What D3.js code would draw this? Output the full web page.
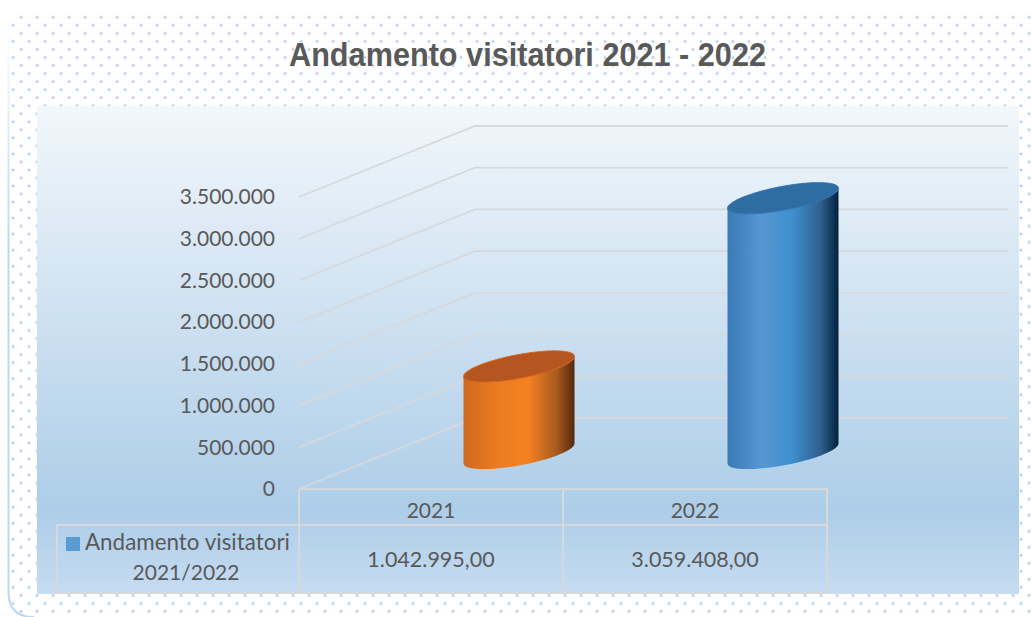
<!DOCTYPE html>
<html>
<head>
<meta charset="utf-8">
<script src="https://cdn.jsdelivr.net/npm/d3@7"></script>
<style>
  html, body { margin: 0; padding: 0; background: #fff; }
  svg { display: block; }
  text { font-family: Lato, sans-serif; fill: #595959; }
</style>
</head>
<body>
<div id="vis"></div>
<script>
const TITLE = "Andamento visitatori 2021 - 2022";
const SERIES_NAME = ["Andamento visitatori", "2021/2022"];
const CATEGORIES = ["2021", "2022"];
const VALUES = [1042995, 3059408];
const Y_TICKS = [0, 500000, 1000000, 1500000, 2000000, 2500000, 3000000, 3500000];

const WIDTH = 1032;
const HEIGHT = 617;

// Piano del grafico (proiezione obliqua: il fondo e' spostato di DEPTH)
const PLOT = { left: 299, right: 827, top: 197, bottom: 489, wallRight: 1008 };
const DEPTH = { x: 176, y: -71 };

const BAR_COLORS = [
    { top: "#b5551f", edge: "#d4651b", stops: ["#cf6a1f", "#ec7a22", "#f58221", "#a9591f", "#512a0a"] },
    { top: "#2e6ca3", edge: "#2f72b0", stops: ["#3a7ab6", "#5697d2", "#3f8fd0", "#2f5f8e", "#02223e"] },
];
const STOP_OFFSETS = ["0%", "30%", "58%", "84%", "100%"];

const it = d3.formatLocale({ decimal: ",", thousands: ".", grouping: [3], currency: ["€", ""] });
const formatTick = it.format(",d");
const formatValue = it.format(",.2f");

const escalaY = d3.scaleLinear().domain([0, 3500000]).range([PLOT.bottom, PLOT.top]);
const escalaX = d3.scaleBand().domain(CATEGORIES).range([PLOT.left, PLOT.right]);

const SVG = d3.select("#vis").append("svg").attr("width", WIDTH).attr("height", HEIGHT);
const defs = SVG.append("defs");

// Sfondo a puntini
const dots = defs.append("pattern")
    .attr("id", "dots")
    .attr("patternUnits", "userSpaceOnUse")
    .attr("x", 13).attr("y", 9.3)
    .attr("width", 16).attr("height", 16.06);
[[8, 8], [0, 16.06], [16, 16.06], [0, 0], [16, 0]].forEach(p => {
    dots.append("circle").attr("cx", p[0]).attr("cy", p[1]).attr("r", 2.4).attr("fill", "#f0f5fb");
});
[[8, 8], [0, 16.06], [16, 16.06], [0, 0], [16, 0]].forEach(p => {
    dots.append("circle").attr("cx", p[0]).attr("cy", p[1]).attr("r", 1).attr("fill", "#97badf");
});

const bgGrad = defs.append("linearGradient")
    .attr("id", "bg").attr("x1", 0).attr("y1", 0).attr("x2", 0).attr("y2", 1);
bgGrad.append("stop").attr("offset", "0%").attr("stop-color", "#f2f7fb");
bgGrad.append("stop").attr("offset", "83%").attr("stop-color", "#adcde8");
bgGrad.append("stop").attr("offset", "100%").attr("stop-color", "#c6dcf1");

const frameGrad = defs.append("linearGradient")
    .attr("id", "frameStroke").attr("gradientUnits", "userSpaceOnUse")
    .attr("x1", 0).attr("y1", 20).attr("x2", 0).attr("y2", 250);
frameGrad.append("stop").attr("offset", "0%").attr("stop-color", "#ffffff");
frameGrad.append("stop").attr("offset", "100%").attr("stop-color", "#bcd7ee");

SVG.append("path")
    .attr("d", `M10 13 H${WIDTH} V${HEIGHT} H34 Q10 617 10 592 Z`)
    .attr("fill", "url(#dots)");

SVG.append("path")
    .attr("d", "M8.5 20 V592 Q8.5 617 34 617")
    .attr("fill", "none")
    .attr("stroke", "url(#frameStroke)")
    .attr("stroke-width", 2);

SVG.append("rect")
    .attr("x", 37).attr("y", 106)
    .attr("width", 982).attr("height", 488)
    .attr("fill", "url(#bg)");

SVG.append("text")
    .attr("x", 527.5).attr("y", 66)
    .attr("text-anchor", "middle")
    .attr("textLength", 477)
    .attr("lengthAdjust", "spacingAndGlyphs")
    .style("font-family", "'Liberation Sans', Arial, sans-serif")
    .style("font-weight", "bold")
    .style("font-size", "33px")
    .text(TITLE);

// Griglia: parete sinistra + parete di fondo
const grid = SVG.append("g").attr("fill", "none").attr("stroke", "#d6d9dc").attr("stroke-width", 1.8);
grid.selectAll("polyline")
    .data(Y_TICKS)
    .join("polyline")
    .attr("points", d => {
        const y = escalaY(d);
        return [[PLOT.left, y], [PLOT.left + DEPTH.x, y + DEPTH.y], [PLOT.wallRight, y + DEPTH.y]].join(" ");
    });

// Tabella dati
const table = SVG.append("g").attr("fill", "none").attr("stroke", "#d6d9dc").attr("stroke-width", 2);
table.append("path").attr("d", `M${PLOT.left} ${PLOT.bottom} H${PLOT.right} V593 H57 V525 H${PLOT.right}`);
[PLOT.left, escalaX("2022")].forEach(x => {
    table.append("path").attr("d", `M${x} ${PLOT.bottom} V593`);
});

// Asse Y
const ejeY = d3.axisLeft(escalaY).tickValues(Y_TICKS).tickFormat(formatTick).tickSize(0).tickPadding(24);
const gY = SVG.append("g").attr("transform", `translate(${PLOT.left},0)`).call(ejeY);
gY.select(".domain").remove();
gY.selectAll("text").style("font-size", "21px").style("fill", "#595959").style("font-family", "Lato, sans-serif");

// Asse X (riga delle categorie)
const ejeX = d3.axisBottom(escalaX).tickSize(0).tickPadding(14);
const gX = SVG.append("g").attr("transform", `translate(0,${PLOT.bottom})`).call(ejeX);
gX.select(".domain").remove();
gX.selectAll("text").style("font-size", "21px").style("fill", "#595959").style("font-family", "Lato, sans-serif");

// Valori nella tabella
SVG.append("g").selectAll("text")
    .data(VALUES)
    .join("text")
    .attr("x", (d, i) => escalaX(CATEGORIES[i]) + escalaX.bandwidth() / 2)
    .attr("y", 567)
    .attr("text-anchor", "middle")
    .style("font-size", "21.5px")
    .text(d => formatValue(d));

// Legenda
SVG.append("rect").attr("x", 66).attr("y", 537).attr("width", 14).attr("height", 14).attr("fill", "#5b9bd5");
SVG.append("text").attr("x", 85).attr("y", 550).style("font-size", "22.4px").text(SERIES_NAME[0]);
SVG.append("text").attr("x", 186).attr("y", 580).attr("text-anchor", "middle").style("font-size", "21px").text(SERIES_NAME[1]);

// Cilindri
const RX = 55.5;
const SLANT = 10;
const RY = 12;

function ellipsePoint(cx, cy, t) {
    return [cx + RX * Math.cos(t), cy - SLANT * Math.cos(t) - RY * Math.sin(t)];
}

const linea = d3.line();

function topPath(cx, cy) {
    return linea(d3.range(0, 2 * Math.PI, 0.05).map(t => ellipsePoint(cx, cy, t))) + "Z";
}

function bodyPath(cx, cyTop, cyBase) {
    // Da destra verso sinistra sul bordo anteriore della base, poi chiude sul bordo del tappo
    const base = d3.range(0, Math.PI + 0.01, 0.05).map(t => ellipsePoint(cx, cyBase, -t));
    const top = d3.range(0, Math.PI + 0.01, 0.05).map(t => ellipsePoint(cx, cyTop, -(Math.PI - t)));
    return linea(base.concat(top)) + "Z";
}

BAR_COLORS.forEach((c, i) => {
    const g = defs.append("linearGradient").attr("id", `bar${i}`);
    c.stops.forEach((s, j) => {
        g.append("stop").attr("offset", STOP_OFFSETS[j]).attr("stop-color", s);
    });
});

const bars = SVG.append("g").selectAll("g")
    .data(VALUES)
    .join("g");

bars.each(function (d, i) {
    const cx = escalaX(CATEGORIES[i]) + escalaX.bandwidth() / 2 + DEPTH.x / 2;
    const cyBase = escalaY(0) + DEPTH.y / 2;
    const cyTop = escalaY(d) + DEPTH.y / 2;
    const bar = d3.select(this);
    bar.append("path")
        .attr("d", bodyPath(cx, cyTop, cyBase))
        .attr("fill", `url(#bar${i})`);
    bar.append("path")
        .attr("d", topPath(cx, cyTop))
        .attr("fill", BAR_COLORS[i].top)
        .attr("stroke", BAR_COLORS[i].edge)
        .attr("stroke-width", 1);
});
</script>
</body>
</html>
